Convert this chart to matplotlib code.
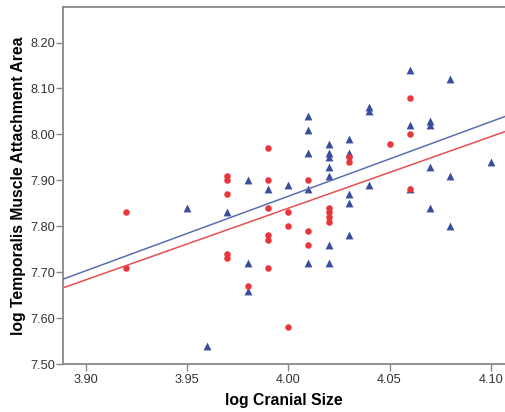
import matplotlib
matplotlib.use("Agg")
import matplotlib.pyplot as plt

# group 1 (blue triangles)
blue_x = [3.95, 3.96, 3.97, 3.98, 3.98, 3.98, 3.99, 4.00,
          4.01, 4.01, 4.01, 4.01, 4.01,
          4.02, 4.02, 4.02, 4.02, 4.02, 4.02, 4.02,
          4.03, 4.03, 4.03, 4.03, 4.03,
          4.04, 4.04, 4.04, 4.06, 4.06, 4.06,
          4.07, 4.07, 4.07, 4.07, 4.08, 4.08, 4.08, 4.10]
blue_y = [7.84, 7.54, 7.83, 7.90, 7.72, 7.66, 7.88, 7.89,
          8.04, 8.01, 7.96, 7.88, 7.72,
          7.98, 7.96, 7.95, 7.93, 7.91, 7.76, 7.72,
          7.99, 7.96, 7.87, 7.85, 7.78,
          8.06, 8.05, 7.89, 8.14, 8.02, 7.88,
          8.03, 8.02, 7.93, 7.84, 8.12, 7.91, 7.80, 7.94]

# group 2 (red circles)
red_x = [3.92, 3.92, 3.97, 3.97, 3.97, 3.97, 3.97, 3.98,
         3.99, 3.99, 3.99, 3.99, 3.99, 3.99,
         4.00, 4.00, 4.00, 4.01, 4.01, 4.01,
         4.02, 4.02, 4.02, 4.02, 4.03, 4.03,
         4.05, 4.06, 4.06, 4.06]
red_y = [7.83, 7.71, 7.91, 7.90, 7.87, 7.74, 7.73, 7.67,
         7.97, 7.90, 7.84, 7.78, 7.77, 7.71,
         7.83, 7.80, 7.58, 7.90, 7.79, 7.76,
         7.84, 7.83, 7.82, 7.81, 7.95, 7.94,
         7.98, 8.08, 8.00, 7.88]

# fit lines, end points
fit_x = [3.889, 4.107]
blue_fit_y = [7.685, 8.039]
red_fit_y = [7.666, 8.006]

plt.rcParams['font.family'] = ['Liberation Sans', 'DejaVu Sans']

fig = plt.figure(figsize=(5.05, 4.12), dpi=100)
ax = fig.add_axes([0.1254, 0.1165, 0.8746, 0.8672])

ax.scatter(blue_x, blue_y, marker="^", s=32, color="#3a4d9e", linewidths=0, zorder=3)
ax.scatter(red_x, red_y, marker="o", s=22, color="#e8363a", linewidths=0, zorder=4)
ax.plot(fit_x, blue_fit_y, color="#5c6eb3", lw=1.1, zorder=5)
ax.plot(fit_x, red_fit_y, color="#e5514f", lw=1.1, zorder=5)

ax.set_xlim(3.889, 4.107)
ax.set_ylim(7.50, 8.278)
ax.set_xticks([3.90, 3.95, 4.00, 4.05, 4.10])
ax.set_xticklabels(["3.90", "3.95", "4.00", "4.05", "4.10"])
ax.set_yticks([7.50, 7.60, 7.70, 7.80, 7.90, 8.00, 8.10, 8.20])
ax.set_yticklabels(["7.50", "7.60", "7.70", "7.80", "7.90", "8.00", "8.10", "8.20"])
ax.tick_params(axis="both", labelsize=9.2, colors="#888888", labelcolor="#333333",
               length=5, width=1)
ax.tick_params(axis="x", pad=2)
ax.tick_params(axis="y", pad=1)

for side in ["left", "bottom", "top"]:
    ax.spines[side].set_color("#888888")
    ax.spines[side].set_linewidth(1.3)
ax.spines["right"].set_visible(False)

ax.set_xlabel("log Cranial Size", fontsize=11.3, fontweight="bold", labelpad=5)
ax.set_ylabel("log Temporalis Muscle Attachment Area", fontsize=11.3,
              fontweight="bold", labelpad=3)

fig.savefig("out.png", dpi=100)
